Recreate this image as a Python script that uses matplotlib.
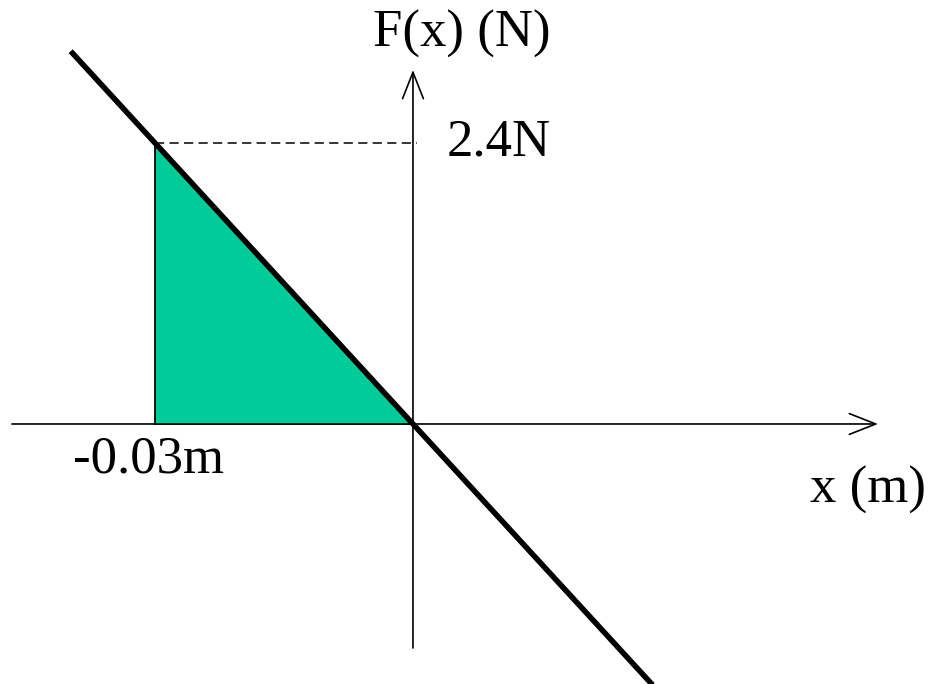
import numpy as np
import matplotlib.pyplot as plt

# donnees : force de rappel F = -k x
x_point = -0.03      # m
F_point = 2.4        # N
k = -F_point / x_point
x_line = np.array([-0.0398, 0.0281])
F_line = -k * x_line

# triangle (aire = travail)
tri_x = [x_point, x_point, 0.0]
tri_F = [F_point, 0.0, 0.0]

label_x = '-0.03m'
label_F = '2.4N'

plt.rcParams['font.family'] = ['Liberation Serif', 'DejaVu Serif']

fig = plt.figure(figsize=(9.3, 6.84), dpi=100)
ax = fig.add_axes([0, 0, 1, 1])
ax.set_xlim(-0.04802, 0.06012)
ax.set_ylim(-2.2206, 3.621)
ax.axis('off')

# aire remplie
ax.fill(tri_x, tri_F, facecolor='#00CC99', edgecolor='black', linewidth=1.3, zorder=2)

# axes avec fleches
arrow = dict(arrowstyle='->,head_length=1.9,head_width=0.75', color='black', lw=1.2,
             shrinkA=0, shrinkB=0)
ax.annotate('', xy=(0.05407, 0), xytext=(-0.04663, 0), arrowprops=arrow, zorder=3)
ax.annotate('', xy=(0, 3.0235), xytext=(0, -1.913), arrowprops=arrow, zorder=3)

# pointilles
ax.plot([x_point, 0.0005], [F_point, F_point], color='black', lw=1.1, ls=(0, (6, 3.5)), zorder=3)

# droite F(x)
ax.plot(x_line, F_line, color='black', lw=4.0, solid_capstyle='butt', zorder=4)

# textes
ax.text(0.0057, 3.33, 'F(x) (N)', fontsize=38, ha='center', va='center')
ax.text(0.00395, F_point, label_F, fontsize=38, ha='left', va='center')
ax.text(-0.0307, -0.307, label_x, fontsize=38, ha='center', va='center')
ax.text(0.0529, -0.564, 'x (m)', fontsize=38, ha='center', va='center')

plt.savefig('out.png', dpi=100)
